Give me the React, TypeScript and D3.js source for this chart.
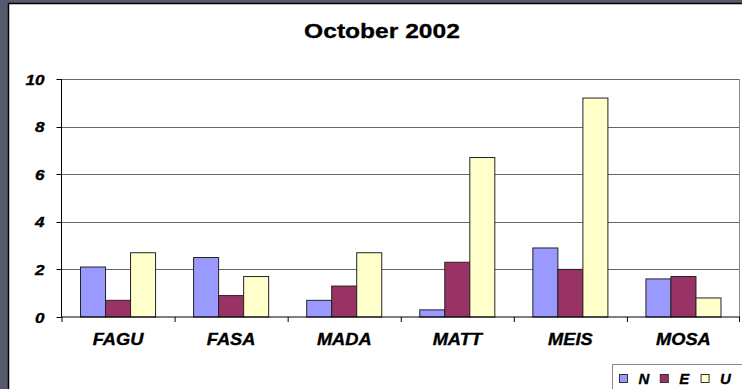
import React from "react";
import * as d3 from "d3";

const categories = ["FAGU", "FASA", "MADA", "MATT", "MEIS", "MOSA"];
const seriesNames = ["N", "E", "U"];
const valuesN = [2.1, 2.5, 0.7, 0.3, 2.9, 1.6];
const valuesE = [0.7, 0.9, 1.3, 2.3, 2.0, 1.7];
const valuesU = [2.7, 1.7, 2.7, 6.7, 9.2, 0.8];
const yTicks = [0, 2, 4, 6, 8, 10];
const colors = ["#9999ff", "#993366", "#ffffcc"];
const title = "October 2002";

export default function App() {
  const W = 742, H = 389;
  const left = 61.5, right = 740, top = 79, bottom = 317;
  const x = d3.scaleBand<string>().domain(categories).range([left, right]).paddingInner(0).paddingOuter(0);
  const y = d3.scaleLinear().domain([0, 10]).range([bottom, top]);
  const series = [valuesN, valuesE, valuesU];
  const font = "'Liberation Sans', Arial, sans-serif";
  const gw = x.bandwidth();
  const barW = gw * 75 / 113 / 3;
  const off = (gw - barW * 3) / 2;

  return (
    <svg width={W} height={H} style={{ position: "absolute", left: 0, top: 0 }}>
      <rect x={0} y={0} width={W} height={H} fill="#565a6b" />
      <rect x={8.5} y={3.5} width={W} height={H} fill="#ffffff" stroke="#000" strokeWidth={1.5} />
      <text transform={`translate(382,38) scale(1.2,1)`} textAnchor="middle" fontFamily={font} fontWeight="bold" fontSize={20.5} fill="#000" stroke="#000" strokeWidth={0.3}>{title}</text>
      {yTicks.filter(t => t > 0).map(t => (
        <line key={"g" + t} x1={left} x2={right} y1={Math.round(y(t)) + 0.5} y2={Math.round(y(t)) + 0.5} stroke="#666" strokeWidth={1} />
      ))}
      <line x1={right - 0.5} x2={right - 0.5} y1={top} y2={bottom} stroke="#8a8a8a" strokeWidth={1} />
      {categories.map((c, i) =>
        series.map((vals, s) => (
          <rect key={c + s} x={x(c)! + off + s * barW} y={y(vals[i])} width={barW} height={bottom - y(vals[i])} fill={colors[s]} stroke="#222" strokeWidth={1} />
        ))
      )}
      <line x1={left} x2={left} y1={top} y2={bottom} stroke="#000" strokeWidth={1} />
      <line x1={left} x2={right} y1={bottom} y2={bottom} stroke="#000" strokeWidth={1.2} />
      {yTicks.map(t => (
        <g key={"t" + t}>
          <line x1={left - 5} x2={left} y1={Math.round(y(t)) + 0.5} y2={Math.round(y(t)) + 0.5} stroke="#000" />
          <text transform={`translate(44.5,${y(t) + 5.5}) scale(1.18,1)`} textAnchor="end" fontFamily={font} fontWeight="bold" fontStyle="italic" fontSize={14.5} fill="#000" stroke="#000" strokeWidth={0.35}>{t}</text>
        </g>
      ))}
      {categories.map(c => (
        <line key={"xt" + c} x1={x(c)! + 0.5} x2={x(c)! + 0.5} y1={bottom} y2={bottom + 5} stroke="#000" />
      ))}
      <line x1={right - 0.5} x2={right - 0.5} y1={bottom} y2={bottom + 5} stroke="#000" />
      {categories.map(c => (
        <text key={"l" + c} transform={`translate(${x(c)! + gw / 2},345) scale(1.14,1)`} textAnchor="middle" fontFamily={font} fontWeight="bold" fontStyle="italic" fontSize={16} fill="#000" stroke="#000" strokeWidth={0.35}>{c}</text>
      ))}
      <rect x={612.5} y={364.5} width={140} height={40} fill="#fff" stroke="#888" strokeWidth={1} />
      {seriesNames.map((n, s) => (
        <g key={"lg" + n} transform={`translate(${619 + s * 40.8},0)`}>
          <rect x={0.5} y={374.5} width={8} height={8} fill={colors[s]} stroke="#333" strokeWidth={1} />
          <text x={19.5} y={384} fontFamily={font} fontWeight="bold" fontStyle="italic" fontSize={15} fill="#000" stroke="#000" strokeWidth={0.3}>{n}</text>
        </g>
      ))}
    </svg>
  );
}
